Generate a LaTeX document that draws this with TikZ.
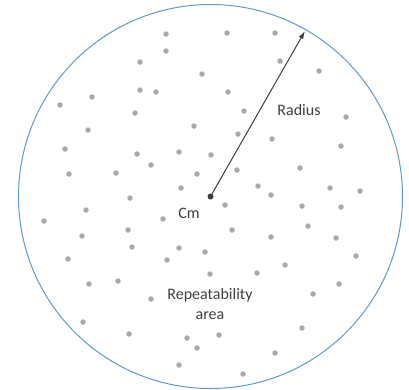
\documentclass[tikz,border=0pt]{standalone}
\usepackage{fontspec}
\setmainfont{Carlito}
\usetikzlibrary{arrows.meta, positioning, calc}
\definecolor{rimblue}{RGB}{91,155,213}
\definecolor{dotgray}{RGB}{170,170,170}
\definecolor{labelgray}{RGB}{64,64,64}

\begin{document}
\begin{tikzpicture}[
    x=1pt, y=-1pt,
    font=\fontsize{16}{20}\selectfont,
    rim/.style={draw=rimblue, line width=1pt},
    shot/.style={circle, fill=dotgray, inner sep=0pt, minimum size=5.5pt},
    centre/.style={circle, fill=labelgray, inner sep=0pt, minimum size=6pt},
    lbl/.style={text=labelgray, inner sep=1pt, align=center},
    arr/.style={-{Latex[length=8pt, width=5pt]}, draw=labelgray, line width=1pt}
  ]
  \useasboundingbox (0,0) rectangle (409,389);

  \node[centre] (cm) at (210.5,196.5) {};
  \draw[rim] (cm.center) circle [radius=192];

  % scattered shots
  \foreach \px/\py [count=\i] in {
      166/34, 227/33, 275/33, 166/51, 140/62, 202/74, 280/61, 319/71,
      140/90, 156/92, 228/92, 92/97, 60/105, 135/113, 244/111, 346/117,
      194/126, 88/130, 238/134, 272/139, 341/146, 65/149, 137/154, 179/152,
      211/155, 151/165, 69/174, 116/173, 197/174, 237/170, 300/168,
      181/188, 258/186, 330/188, 360/191, 130/198, 271/195, 86/210,
      44/221, 163/219, 225/205, 302/206, 341/207, 128/230, 232/230,
      308/226, 82/236, 271/237, 336/238, 132/247, 179/248, 205/252,
      68/259, 167/260, 356/256, 285/265, 118/281, 89/284, 210/274,
      257/273, 339/284, 151/299, 313/294, 83/322, 302/328, 129/334,
      219/335, 187/338, 197/348, 275/353, 179/365, 243/374}
    \node[shot] (shot\i) at (\px,\py) {};

  \coordinate (rimpt) at (305,31);
  \draw[arr] (cm.center) -- (rimpt);

  \node[lbl] (radius) at (299,110) {Radius};
  \node[lbl] (cmlbl) at (189,213) {Cm};
  \node[lbl] (area) at (210,304) {Repeatability\\area};
\end{tikzpicture}
\end{document}
